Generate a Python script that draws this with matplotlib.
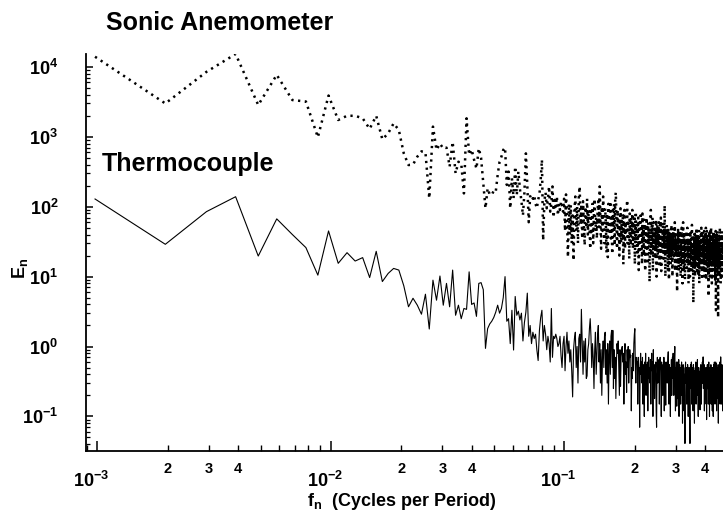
import numpy as np
import matplotlib
matplotlib.use('Agg')
import matplotlib.pyplot as plt
from matplotlib.ticker import LogLocator, FuncFormatter, NullFormatter
from matplotlib.transforms import ScaledTranslation

plt.rcParams['font.family'] = 'Liberation Sans'
plt.rcParams['font.weight'] = 'bold'
plt.rcParams['mathtext.fontset'] = 'custom'
plt.rcParams['mathtext.rm'] = 'Liberation Sans:bold'
plt.rcParams['mathtext.it'] = 'Liberation Sans:bold'
plt.rcParams['mathtext.bf'] = 'Liberation Sans:bold'
plt.rcParams['mathtext.default'] = 'bf'

# samples per period: f_n = n / N
N_PERIOD = 1024

# spectral estimates E_n, n = 1, 2, 3, ...
thermocouple = [
    129, 29, 85, 139, 19.7, 67, 40, 26, 10.5, 45,
    15.5, 22, 16.7, 18.7, 9.7, 23, 8.5, 11.1, 13.1, 12.4,
    7.4, 3.7, 4.9, 3.9, 2.9, 5.6, 1.78, 8.9, 4.6, 10.2,
    3.9, 8.0, 3.7, 12.4, 2.8, 3.9, 2.5, 3.5, 3.4, 11.7,
    4.0, 4.2, 2.7, 8.0, 8.2, 6.5, 0.94, 1.8, 2.1, 2.3,
    2.6, 3.1, 3.9, 3.0, 3.5, 5.0, 10, 2.3, 2.5, 1.1,
    3.3, 0.89, 5.2, 2.8, 3.2, 2.4, 3.0, 1.2, 2.2, 3.1,
    5.8, 1.4, 2.0, 1.1, 1.6, 1.3, 1.5, 0.9, 0.63, 1.7,
    2.6, 3.3, 1.2, 2.0, 1.5, 0.9, 1.4, 1.1, 0.6, 3.5,
    0.7, 1.4, 1.3, 1.5, 1.3, 1.0, 1.1, 1.4, 0.75, 0.5,
    1.1, 1.4, 0.45, 1.0, 1.6, 0.8, 1.2, 0.6, 0.9, 0.45,
    0.19, 0.9, 1.3, 1.6, 0.5, 1.0, 0.3, 1.3, 1.5, 0.6,
    3.4, 1.1, 0.4, 1.2, 0.6, 1.3, 0.35, 0.38, 0.9, 1.1,
    1.8, 2.5, 1.4, 0.5, 1.1, 0.7, 0.25, 0.9, 1.6, 0.4,
    0.8, 1.5, 2.0, 0.6, 1.1, 0.3, 0.9, 0.2, 0.7, 1.2,
    0.5, 1.4, 1.6, 0.4, 0.9, 0.3, 1.1, 0.15, 0.7, 1.2,
    0.4, 1.4, 1.7, 0.5, 1.7, 0.25, 0.9, 0.35, 0.7, 0.18,
    0.6, 1.1, 0.8, 1.2, 0.5, 0.2, 0.9, 0.27, 0.7, 0.9,
    1.0, 0.6, 0.8, 0.15, 0.7, 1.1, 0.4, 0.6, 0.22, 0.9,
    0.5, 1.0, 0.3, 0.6, 0.9, 0.7, 0.75, 0.12, 0.5, 0.35,
    0.8, 0.45, 1.1, 1.5, 1.8, 0.5, 0.3, 0.7, 0.6, 0.6,
    0.15, 0.7, 0.5, 0.5, 0.07, 0.45, 0.8, 0.4, 0.6, 0.3,
    0.7, 0.15, 0.5, 0.55, 0.1, 0.6, 0.35, 0.8, 0.2, 0.55,
    0.45, 0.6, 0.12, 0.45, 0.7, 0.35, 0.5, 0.3, 0.65, 0.15,
    0.5, 0.8, 0.45, 0.6, 0.1, 0.9, 0.35, 0.55, 0.18, 0.5,
    0.4, 0.6, 0.12, 0.07, 0.4, 0.7, 0.3, 0.55, 0.4, 0.65,
    0.15, 0.45, 0.7, 0.5, 0.5, 0.1, 0.6, 0.4, 0.45, 0.2,
    0.55, 0.3, 0.7, 0.12, 0.4, 0.6, 0.35, 0.145, 0.5, 0.35,
    0.6, 0.3, 0.5, 0.7, 0.84, 0.4, 0.15, 0.55, 0.35, 0.45,
    0.1, 0.5, 0.4, 0.65, 0.2, 0.45, 0.7, 0.35, 0.8, 0.35,
    0.2, 0.55, 0.7, 1.0, 0.3, 0.12, 0.5, 0.4, 0.6, 0.14,
    0.4, 0.6, 0.18, 0.5, 0.3, 0.65, 0.1, 0.4, 0.55, 0.3,
    0.45, 0.15, 0.5, 0.35, 0.6, 0.2, 0.4, 0.08, 0.35, 0.55,
    0.3, 0.5, 0.12, 0.4, 0.2, 0.041, 0.45, 0.6, 0.3, 0.35,
    0.5, 0.15, 0.4, 0.3, 0.55, 0.3, 0.1, 0.45, 0.25, 0.5,
    0.3, 0.1, 0.041, 0.35, 0.55, 0.25, 0.45, 0.6, 0.15, 0.35,
    0.5, 0.3, 0.4, 0.12, 0.55, 0.3, 0.25, 0.45, 0.08, 0.4,
    0.25, 0.5, 0.3, 0.6, 0.15, 0.4, 0.3, 0.55, 0.3, 0.65,
    0.2, 0.45, 0.1, 0.35, 0.5, 0.18, 0.4, 0.3, 0.3, 0.124,
    0.45, 0.25, 0.55, 0.3, 0.15, 0.5, 0.3, 0.4, 0.6, 0.3,
    0.5, 0.71, 0.25, 0.4, 0.3, 0.55, 0.12, 0.35, 0.45, 0.25,
    0.4, 0.3, 0.5, 0.15, 0.3, 0.09, 0.45, 0.3, 0.55, 0.25,
    0.35, 0.5, 0.15, 0.4, 0.6, 0.3, 0.45, 0.1, 0.35, 0.5,
    0.25, 0.45, 0.3, 0.55, 0.15, 0.4, 0.3, 0.5, 0.3, 0.12,
    0.4, 0.25, 0.5, 0.1, 0.3, 0.55, 0.25, 0.4, 0.6, 0.3,
    0.45, 0.15, 0.5, 0.3, 0.6, 0.25, 0.57, 0.35, 0.12, 0.4,
    0.3, 0.5, 0.18, 0.45, 0.3, 0.55, 0.08, 0.4, 0.3, 0.5,
    0.25, 0.45, 0.3, 0.6, 0.15, 0.5, 0.35, 0.71, 0.3, 0.4,
    0.15, 0.45, 0.3, 0.55, 0.25, 0.4, 0.12, 0.35, 0.5, 0.3,
]

sonic = [
    14000, 3000, 8500, 15300, 2850, 7700, 3360, 3200, 985, 3900,
    1740, 2000, 2000, 1840, 1300, 2000, 920, 1120, 1560, 1250,
    580, 395, 400, 520, 620, 600, 132, 1400, 650, 800,
    680, 700, 375, 850, 300, 440, 420, 155, 1840, 550,
    660, 470, 350, 685, 500, 216, 95, 183, 150, 147,
    170, 163, 284, 440, 520, 650, 700, 205, 318, 95,
    255, 132, 375, 147, 318, 180, 120, 75, 160, 580,
    200, 60, 140, 150, 130, 145, 110, 95, 125, 150,
    240, 470, 33, 120, 160, 95, 130, 195, 85, 110,
    195, 70, 125, 100, 140, 75, 110, 90, 120, 100,
    85, 130, 45, 150, 70, 19, 110, 40, 105, 30,
    75, 17, 90, 140, 45, 100, 30, 140, 195, 55,
    110, 35, 120, 60, 28, 100, 50, 130, 40, 90,
    60, 25, 95, 40, 110, 30, 80, 130, 45, 70,
    35, 90, 120, 50, 195, 60, 25, 100, 45, 140,
    55, 30, 95, 60, 22, 80, 19, 110, 40, 75,
    120, 35, 70, 21, 90, 45, 110, 28, 140, 160,
    55, 25, 90, 40, 70, 20, 60, 95, 30, 65,
    35, 80, 15, 55, 90, 25, 60, 40, 75, 125,
    30, 65, 45, 18, 80, 50, 28, 70, 40, 90,
    25, 60, 35, 75, 15, 50, 85, 30, 55, 20,
    45, 70, 12.4, 40, 60, 22, 75, 35, 55, 15,
    80, 30, 50, 20, 65, 35, 12, 55, 40, 70,
    25, 50, 15, 60, 30, 45, 8.4, 35, 55, 90,
    20, 55, 30, 70, 12, 40, 60, 25, 45, 18,
    50, 25, 65, 10, 40, 55, 20, 45, 30, 60,
    15, 40, 55, 25, 70, 12, 35, 50, 22, 45,
    60, 18, 45, 30, 105, 25, 10, 50, 35, 20,
    55, 25, 40, 12, 50, 30, 9, 45, 20, 40,
    28, 15, 45, 55, 20, 35, 10, 40, 25, 50,
    18, 45, 25, 60, 12, 35, 22, 40, 15, 30,
    6.1, 40, 20, 50, 25, 12, 35, 45, 15, 30,
    40, 10, 30, 20, 50, 15, 28, 8, 35, 60,
    22, 12, 40, 25, 45, 9, 30, 18, 35, 20,
    45, 12, 28, 50, 15, 35, 20, 8, 30, 40,
    15, 35, 10, 25, 45, 18, 30, 12, 40, 55,
    20, 35, 12, 28, 4.2, 40, 15, 30, 22, 45,
    10, 25, 35, 15, 40, 20, 50, 12, 28, 35,
    18, 40, 10, 30, 22, 45, 8, 25, 35, 15,
    30, 12, 40, 20, 50, 15, 28, 9, 35, 45,
    22, 38, 12, 30, 18, 45, 25, 10, 35, 20,
    40, 15, 50, 25, 9, 30, 45, 12, 28, 35,
    18, 40, 22, 5.2, 30, 15, 45, 20, 10, 35,
    25, 45, 12, 30, 50, 15, 28, 8, 35, 20,
    40, 12, 30, 22, 45, 15, 35, 10, 28, 40,
    18, 35, 9, 30, 45, 3.3, 25, 40, 15, 30,
    22, 45, 12, 35, 20, 2.6, 30, 15, 40, 25,
    10, 35, 20, 50, 15, 30, 22, 8, 40, 25,
    35, 12, 28, 45, 18, 30, 10, 40, 22, 30,
]

f_thermo = np.arange(1, len(thermocouple) + 1) / N_PERIOD
f_sonic = np.arange(1, len(sonic) + 1) / N_PERIOD

fig = plt.figure(figsize=(7.23, 5.16), dpi=100)
ax = fig.add_axes([86 / 723, 65 / 516, 637 / 723, 397 / 516])

ax.plot(f_sonic, sonic, color='black', lw=1.8, linestyle=(0, (0.9, 1.8)))
ax.plot(f_thermo, thermocouple, color='black', lw=0.8)

ax.set_xscale('log')
ax.set_yscale('log')
ax.set_xlim(10 ** -3.049, 10 ** -0.321)
ax.set_ylim(10 ** -1.495, 10 ** 4.185)

for side in ['top', 'right']:
    ax.spines[side].set_visible(False)
for side in ['left', 'bottom']:
    ax.spines[side].set_linewidth(1.3)


def power_label(v, pos):
    return r'$10^{%d}$' % round(np.log10(v))


def mantissa_label(v, pos):
    m = int(round(v / 10 ** np.floor(np.log10(v) + 1e-9)))
    return str(m) if m in (2, 3, 4) else ''


ax.xaxis.set_major_locator(LogLocator(base=10, numticks=12))
ax.xaxis.set_minor_locator(LogLocator(base=10, subs=np.arange(2, 10), numticks=12))
ax.xaxis.set_major_formatter(FuncFormatter(power_label))
ax.xaxis.set_minor_formatter(FuncFormatter(mantissa_label))

ax.yaxis.set_major_locator(LogLocator(base=10, numticks=12))
ax.yaxis.set_minor_locator(LogLocator(base=10, subs=np.arange(2, 10), numticks=12))
ax.yaxis.set_major_formatter(FuncFormatter(power_label))
ax.yaxis.set_minor_formatter(NullFormatter())

ax.tick_params(axis='x', which='major', direction='in', length=7, width=1.1, pad=14, labelsize=13)
ax.tick_params(axis='x', which='minor', direction='in', length=4.5, width=1, pad=8, labelsize=10.5)
ax.tick_params(axis='y', which='major', direction='in', length=5, width=1.1, pad=20, labelsize=13)
ax.tick_params(axis='y', which='minor', direction='in', length=3, width=0.9)

# nudge the decade labels left
shift = ScaledTranslation(-6 / 100, 0, fig.dpi_scale_trans)
for lab in ax.get_xticklabels(which='major'):
    lab.set_transform(lab.get_transform() + shift)

fig.text(106 / 723, 1 - 23 / 516, 'Sonic Anemometer', fontsize=18, fontweight='bold',
         ha='left', va='center')
fig.text(102 / 723, 1 - 164 / 516, 'Thermocouple', fontsize=18, fontweight='bold',
         ha='left', va='center')
fig.text(20 / 723, 1 - 268 / 516, r'$E_n$', fontsize=13, rotation=90, ha='center', va='center')
fig.text(402 / 723, 1 - 502 / 516, r'$f_n$  (Cycles per Period)', fontsize=13,
         ha='center', va='center')

fig.savefig('out.png', dpi=100)
